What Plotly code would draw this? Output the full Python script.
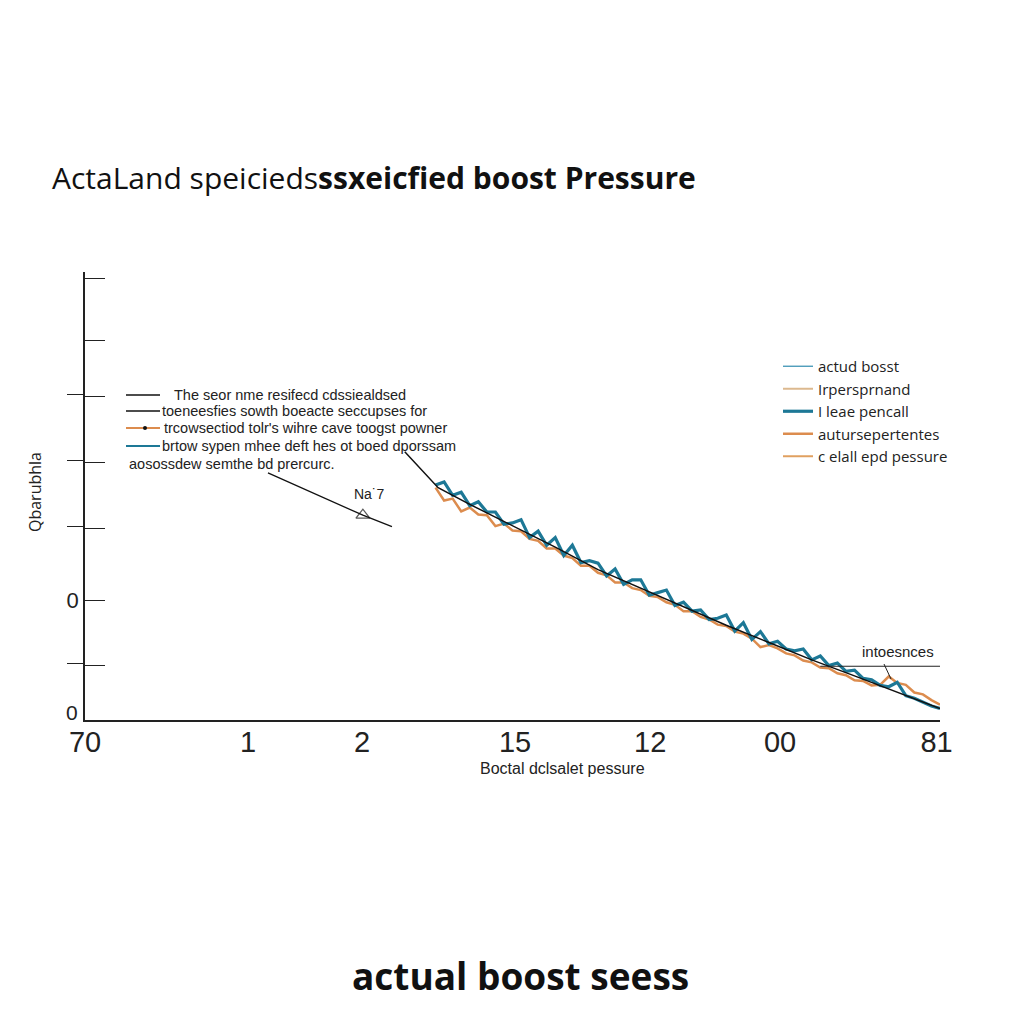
import plotly.graph_objects as go

# --- data ---
x_grid = [4.1, 4.2, 4.3, 4.4, 4.5, 4.6, 4.7, 4.8, 4.9, 5.0,
          5.1, 5.2, 5.3, 5.4, 5.5, 5.6, 5.7, 5.8, 5.9, 6.0,
          6.1, 6.2, 6.3, 6.4, 6.5, 6.6, 6.7, 6.8, 6.9, 7.0,
          7.1, 7.2, 7.3, 7.4, 7.5, 7.6, 7.7, 7.8, 7.9, 8.0,
          8.1, 8.2, 8.3, 8.4, 8.5, 8.6, 8.7, 8.8, 8.9, 9.0,
          9.1, 9.2, 9.3, 9.4, 9.5, 9.6, 9.7, 9.8, 9.9, 10.0]

teal_vals = [3.67, 3.72, 3.51, 3.56, 3.35, 3.41, 3.25, 3.25, 3.06, 3.08,
             3.13, 2.85, 2.95, 2.73, 2.85, 2.57, 2.73, 2.46, 2.49, 2.45,
             2.25, 2.36, 2.12, 2.19, 2.19, 1.95, 1.99, 2.03, 1.79, 1.84,
             1.70, 1.72, 1.57, 1.59, 1.64, 1.39, 1.52, 1.26, 1.38, 1.19,
             1.23, 1.11, 1.08, 1.11, 0.94, 1.00, 0.85, 0.89, 0.76, 0.78,
             0.65, 0.63, 0.54, 0.52, 0.59, 0.38, 0.34, 0.28, 0.22, 0.18]

orange_vals = [3.63, 3.43, 3.46, 3.26, 3.32, 3.21, 3.20, 3.03, 3.07, 2.96,
               2.95, 2.83, 2.80, 2.68, 2.68, 2.57, 2.53, 2.41, 2.41, 2.30,
               2.26, 2.15, 2.15, 2.06, 2.03, 1.94, 1.92, 1.84, 1.80, 1.70,
               1.70, 1.61, 1.57, 1.49, 1.47, 1.38, 1.35, 1.27, 1.14, 1.17,
               1.12, 1.04, 1.01, 0.93, 0.90, 0.82, 0.81, 0.73, 0.70, 0.62,
               0.61, 0.54, 0.55, 0.68, 0.58, 0.55, 0.43, 0.40, 0.31, 0.24]

mean_x = [3.74, 4.13, 4.5, 5.0, 5.5, 6.0, 6.5, 7.0, 7.5, 8.0, 8.5, 9.0, 9.5, 10.0]
mean_y = [4.19, 3.63, 3.37, 3.04, 2.70, 2.35, 2.06, 1.78, 1.48, 1.21, 0.94, 0.69, 0.43, 0.18]

pointer_x = [2.14, 3.25, 3.59]
pointer_y = [3.86, 3.20, 3.02]

x_tickvals = [0, 1.906, 3.24, 5.03, 6.61, 8.13, 9.96]
x_ticktext = ["70", "1", "2", "15", "12", "00", "81"]

y_tickvals = [0, 0.859, 1.875, 3.0, 4.03, 5.0625, 5.9375, 6.906]
y_ticktext = ["", "", "0", "", "", "", "", ""]
y_cross = [0.879, 3.02, 4.05, 5.08]

left_notes = ["The seor nme resifecd cdssiealdsed",
              "toeneesfies sowth boeacte seccupses for",
              "trcowsectiod tolr's wihre cave toogst powner",
              "brtow sypen mhee deft hes ot boed dporssam",
              "aosossdew semthe bd prercurc."]

TEAL = "#1d7896"
ORANGE = "#dc8c4e"
plain = "Liberation Sans, Arial, sans-serif"
open_sans = "Open Sans, Noto Sans, sans-serif"

def px_x(p):
    return (p - 85) / 855

def px_y(p):
    return (720 - p) / 448

fig = go.Figure()

fig.add_trace(go.Scatter(x=x_grid, y=orange_vals, mode="lines", name="autursepertentes",
                         line=dict(color=ORANGE, width=2.5), legendrank=4))
fig.add_trace(go.Scatter(x=x_grid, y=teal_vals, mode="lines", name="I leae pencall",
                         line=dict(color=TEAL, width=3.2), legendrank=3))
fig.add_trace(go.Scatter(x=mean_x, y=mean_y, mode="lines", showlegend=False,
                         line=dict(color="#111111", width=1.5)))
fig.add_trace(go.Scatter(x=pointer_x, y=pointer_y, mode="lines+markers", showlegend=False,
                         line=dict(color="#111111", width=1.3),
                         marker=dict(symbol="triangle-up-open", size=[0, 12, 0],
                                     color="#111111", line=dict(width=1.3))))

# legend-only entries
fig.add_trace(go.Scatter(x=[None], y=[None], mode="lines", name="actud bosst",
                         line=dict(color="#3f95b5", width=1.3), legendrank=1))
fig.add_trace(go.Scatter(x=[None], y=[None], mode="lines", name="Irpersprnand",
                         line=dict(color="#dcb98f", width=2), legendrank=2))
fig.add_trace(go.Scatter(x=[None], y=[None], mode="lines", name="c elall epd pessure",
                         line=dict(color="#e0a060", width=2), legendrank=5))

# left note block
note_y = [395, 411, 428, 446, 464]
note_x = [172, 160, 162, 160, 127]
note_line = ["#111111", "#111111", ORANGE, TEAL, None]
shapes = []
annotations = []
for txt, yy, xx, col in zip(left_notes, note_y, note_x, note_line):
    annotations.append(dict(x=px_x(xx), y=px_y(yy), xref="paper", yref="paper",
                            text=txt, showarrow=False, xanchor="left", yanchor="middle",
                            font=dict(family=plain, size=14.5, color="#222")))
    if col:
        shapes.append(dict(type="line", xref="paper", yref="paper",
                           x0=px_x(126), x1=px_x(160), y0=px_y(yy), y1=px_y(yy),
                           line=dict(color=col, width=2 if col != "#111111" else 1.3)))
shapes.append(dict(type="circle", xref="paper", yref="paper",
                   x0=px_x(143), x1=px_x(147), y0=px_y(426), y1=px_y(430),
                   fillcolor="#111", line=dict(width=0)))

# "intoesnces" marker line
shapes.append(dict(type="line", xref="x", yref="y", x0=8.6, x1=10.0, y0=0.84, y1=0.84,
                   line=dict(color="#222", width=1.2)))
shapes.append(dict(type="line", xref="paper", yref="paper",
                   x0=px_x(884), x1=px_x(891), y0=px_y(664), y1=px_y(679),
                   line=dict(color="#222", width=1)))

def label(txt, cx, cy, size, family=plain, angle=0):
    annotations.append(dict(x=px_x(cx), y=px_y(cy), xref="paper", yref="paper",
                            text=txt, showarrow=False, textangle=angle,
                            xanchor="center", yanchor="middle",
                            font=dict(family=family, size=size, color="#222")))

label("intoesnces", 898, 651, 15)
label("Na˙7", 369, 494, 14)
label("Boctal dclsalet pessure", 562, 768, 16)
label("Qbarubhla", 35, 492, 16, family=open_sans, angle=-90)
label("0", 72, 712, 21)
annotations.append(dict(x=px_x(520), y=px_y(975), xref="paper", yref="paper",
                        text="<b>actual boost seess</b>", showarrow=False,
                        xanchor="center", yanchor="middle",
                        font=dict(family=open_sans, size=37, color="#111")))

fig.update_layout(
    width=1024, height=1024,
    paper_bgcolor="white", plot_bgcolor="white",
    margin=dict(l=77, r=92, t=264, b=312),
    title=dict(text="ActaLand speicieds<b>ssxeicfied boost Pressure</b>",
               xref="container", yref="container", x=44 / 1024, y=1 - 170 / 1024,
               xanchor="left", yanchor="middle",
               font=dict(family=open_sans, size=30, color="#111")),
    legend=dict(x=px_x(778), y=px_y(350), xanchor="left", yanchor="top",
                bgcolor="rgba(0,0,0,0)", font=dict(family=open_sans, size=15, color="#222")),
    shapes=shapes,
    annotations=annotations,
)

fig.update_xaxes(range=[0, 10], showline=True, linecolor="#222", linewidth=1.5,
                 showgrid=False, zeroline=False, ticks="",
                 tickvals=x_tickvals, ticktext=x_ticktext, ticklabelstandoff=-5,
                 tickfont=dict(family=plain, size=29, color="#222"))
fig.update_yaxes(range=[0, 7], showline=True, linecolor="#222", linewidth=1.5,
                 showgrid=False, zeroline=False,
                 ticks="inside", ticklen=20, tickcolor="#222", tickwidth=1.2,
                 tickvals=y_tickvals, ticktext=y_ticktext,
                 tickfont=dict(family=plain, size=22, color="#222"),
                 minor=dict(ticks="outside", ticklen=16, tickcolor="#222", tickwidth=1.2,
                            tickvals=y_cross))

fig.write_html("out.html")
